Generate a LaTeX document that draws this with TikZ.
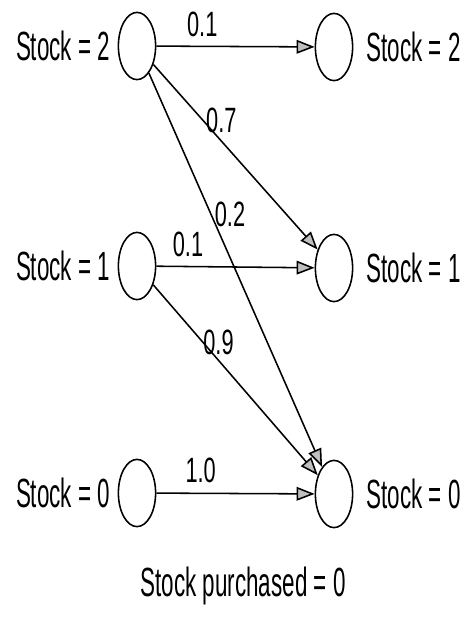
\documentclass[tikz,border=0pt]{standalone}
\usepackage{fontspec}
\setmainfont{Liberation Sans}
\newfontfamily\stockfont[FakeStretch=0.55]{Liberation Sans}
\newfontfamily\probfont[FakeStretch=0.62]{Liberation Sans}
\usetikzlibrary{shapes.geometric, arrows.meta, positioning}

\begin{document}
\begin{tikzpicture}[x=0.025cm, y=-0.025cm,
    level/.style={ellipse, draw, line width=1.1pt, minimum width=0.93cm, minimum height=1.68cm, inner sep=0pt},
    stocklbl/.style={font=\stockfont\fontsize{29}{31}\selectfont, inner sep=0pt},
    prob/.style={font=\probfont\fontsize{25}{27}\selectfont, inner sep=2pt},
    arrow/.style={-{Triangle[length=0.45cm, width=0.34cm, fill=gray!50]}, line width=1.1pt}
]
    \useasboundingbox (0,0) rectangle (470,620);

    % before (left) and after (right)
    \node[level] (l2) at (137,46) {};
    \node[level] (r2) at (334,47) {};
    \node[level] (l1) at (137,266) {};
    \node[level] (r1) at (334,268) {};
    \node[level] (l0) at (137,493) {};
    \node[level] (r0) at (334,494) {};

    \node[stocklbl, left=0.18cm of l2] (l2txt) {Stock = 2};
    \node[stocklbl, left=0.18cm of l1] (l1txt) {Stock = 1};
    \node[stocklbl, left=0.18cm of l0] (l0txt) {Stock = 0};
    \node[stocklbl, right=0.32cm of r2] (r2txt) {Stock = 2};
    \node[stocklbl, right=0.32cm of r1] (r1txt) {Stock = 1};
    \node[stocklbl, right=0.32cm of r0] (r0txt) {Stock = 0};

    \node[stocklbl] (purch) at (243,586) {Stock purchased = 0};

    % transitions
    \draw[arrow] (l2) -- node[prob, above=0.14cm, pos=0.29] {0.1} (r2);
    \draw[arrow] (l2) -- node[prob, right, pos=0.3] {0.7} (r1);
    \draw[arrow] (l2) -- node[prob, right, pos=0.36] {0.2} (r0);
    \draw[arrow] (l1) -- node[prob, above=0.16cm, pos=0.2] {0.1} (r1);
    \draw[arrow] (l1) -- node[prob, right, pos=0.3, inner sep=0pt] {0.9} (r0);
    \draw[arrow] (l0) -- node[prob, above=0.18cm, pos=0.28] {1.0} (r0);
\end{tikzpicture}
\end{document}
